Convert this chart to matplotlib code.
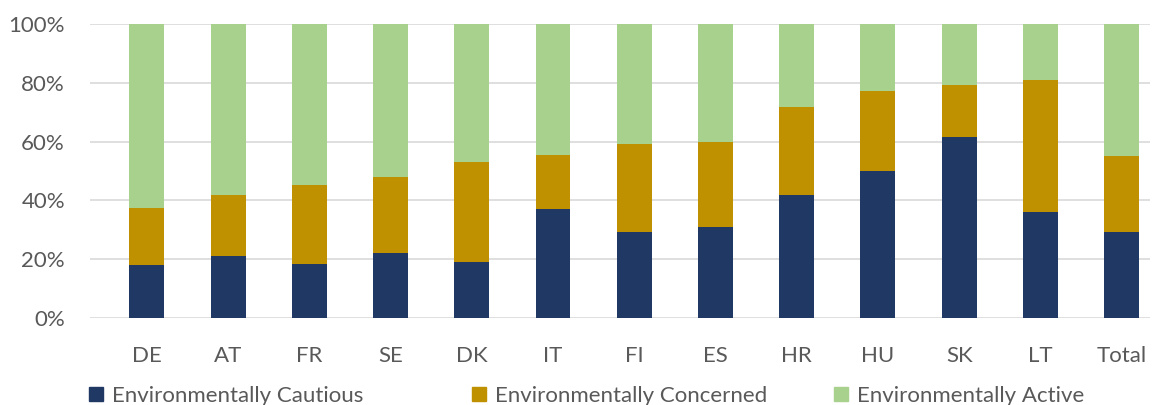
import matplotlib
matplotlib.use("Agg")
import matplotlib.pyplot as plt
from matplotlib.lines import Line2D
from matplotlib.ticker import PercentFormatter
import numpy as np

countries = ["DE", "AT", "FR", "SE", "DK", "IT", "FI", "ES", "HR", "HU", "SK", "LT", "Total"]
cautious = [18.1, 21.1, 18.4, 22.1, 19.1, 37.1, 29.2, 31.1, 41.7, 49.9, 61.5, 36.0, 29.2]
concerned = [19.3, 20.6, 26.9, 25.9, 34.0, 18.4, 29.9, 28.6, 30.0, 27.2, 17.9, 44.9, 25.8]
active = [62.6, 58.3, 54.7, 52.0, 46.9, 44.5, 40.9, 40.3, 28.3, 22.9, 20.6, 19.1, 45.0]

series_names = ["Environmentally Cautious", "Environmentally Concerned", "Environmentally Active"]
colors = ["#1F3864", "#BF9000", "#A9D18E"]

text_color = "#595959"
plt.rcParams["font.family"] = ["Lato", "DejaVu Sans"]

W, H = 1157, 405
fig = plt.figure(figsize=(W / 100, H / 100), dpi=100)
ax = fig.add_axes([90 / W, 1 - 318 / H, (1150 - 90) / W, (318 - 24) / H])

x = np.arange(len(countries))
bottom = np.zeros(len(countries))
for vals, col, name in zip([cautious, concerned, active], colors, series_names):
    ax.bar(x, vals, width=0.43, bottom=bottom, color=col, label=name, zorder=2)
    bottom += np.array(vals)

ax.set_ylim(0, 100)
ax.set_xlim(-0.70, 12.35)
ax.set_yticks(np.arange(0, 101, 20))
ax.yaxis.set_major_formatter(PercentFormatter(decimals=0))
ax.grid(axis="y", color="#D9D9D9", linewidth=1.2, zorder=0)
ax.set_xticks(x)
ax.set_xticklabels(countries)
for s in ax.spines.values():
    s.set_visible(False)
ax.tick_params(axis="both", length=0, labelsize=16, labelcolor=text_color)
ax.tick_params(axis="x", pad=20)
ax.tick_params(axis="y", pad=18)

# one legend entry per series, laid out along the bottom edge
legend_x = [88, 471, 833]
for name, col, lx in zip(series_names, colors, legend_x):
    h = Line2D([], [], marker="s", linestyle="", color=col, markersize=10)
    fig.legend([h], [name], loc="center left", bbox_to_anchor=(lx / W, 1 - 396 / H),
               frameon=False, fontsize=16, labelcolor=text_color,
               handlelength=0.7, handletextpad=0.4, borderpad=0, borderaxespad=0)

fig.savefig("out.png", dpi=100, facecolor="white")
